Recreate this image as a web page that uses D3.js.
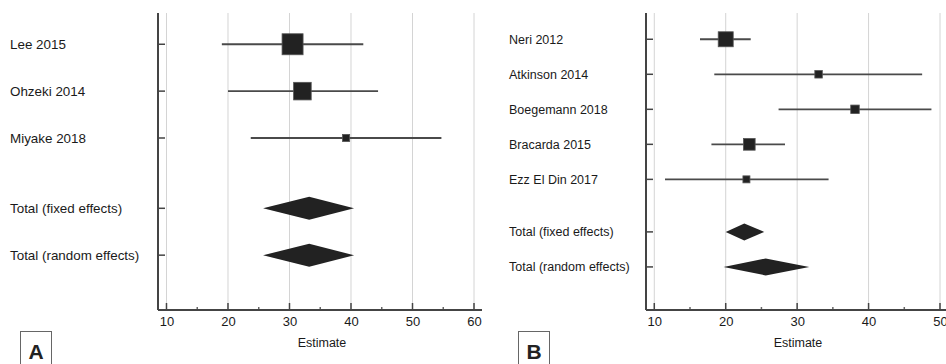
<!DOCTYPE html>
<html>
<head>
<meta charset="utf-8">
<script src="https://cdn.jsdelivr.net/npm/d3@7/dist/d3.min.js"></script>
<style>
  html, body { margin: 0; padding: 0; background: #fff; }
  svg { display: block; font-family: "Liberation Sans", Arial, sans-serif; }
</style>
</head>
<body>
<svg id="chart" width="946" height="364"></svg>
<script>
// Panel A: individual studies
const studiesA   = ["Lee 2015", "Ohzeki 2014", "Miyake 2018"];
const estA       = [30.5, 32.1, 39.2];
const lowA       = [19.0, 20.0, 23.7];
const highA      = [42.0, 44.4, 54.7];
const weightA    = [55.0, 38.6, 6.4];
// Panel A: pooled estimates
const totalsA    = ["Total (fixed effects)", "Total (random effects)"];
const totEstA    = [33.2, 33.2];
const totLowA    = [25.7, 25.7];
const totHighA   = [40.5, 40.5];
const ticksA     = [10, 20, 30, 40, 50, 60];

// Panel B: individual studies
const studiesB   = ["Neri 2012", "Atkinson 2014", "Boegemann 2018", "Bracarda 2015", "Ezz El Din 2017"];
const estB       = [20.0, 33.0, 38.1, 23.3, 22.9];
const lowB       = [16.4, 18.4, 27.4, 18.0, 11.5];
const highB      = [23.5, 47.5, 48.8, 28.3, 34.4];
const weightB    = [41.7, 10.4, 13.4, 25.4, 9.1];
// Panel B: pooled estimates
const totalsB    = ["Total (fixed effects)", "Total (random effects)"];
const totEstB    = [22.6, 25.6];
const totLowB    = [20.0, 19.7];
const totHighB   = [25.4, 31.7];
const ticksB     = [10, 20, 30, 40, 50];

const svg = d3.select("#chart");

function forestPanel(p) {
  const g = svg.append("g");
  const n = p.studies.length;
  // studies sit on rows 0..n-1, pooled rows follow after a half-row gap
  const rows = p.studies.map((s, i) => ({
    label: s, est: p.est[i], low: p.low[i], high: p.high[i], w: p.weight[i], row: i
  }));
  const totals = p.totals.map((s, j) => ({
    label: s, est: p.totEst[j], low: p.totLow[j], high: p.totHigh[j], row: n + 0.5 + j
  }));

  const x = d3.scaleLinear().domain(p.xDomain).range([p.left, p.right]);
  const y = d3.scaleLinear().domain(p.yDomain).range([p.top, p.bottom]);
  const size = d3.scaleSqrt().domain([0, d3.max(p.weight)]).range([0, p.maxSquare]);

  // vertical grid lines at major ticks
  g.selectAll("line.grid").data(p.ticks).join("line")
    .attr("x1", d => x(d)).attr("x2", d => x(d))
    .attr("y1", p.top).attr("y2", p.bottom)
    .attr("stroke", "#d4d4d4").attr("stroke-width", 1);

  // x axis (ticks point inward)
  const minor = d3.range(p.ticks[0] + 5, p.ticks[p.ticks.length - 1], 10);
  const xAxis = g.append("g").attr("transform", `translate(0,${p.bottom})`);
  xAxis.call(d3.axisBottom(x).tickValues(p.ticks).tickSize(0).tickPadding(7)
      .tickFormat(d3.format("d")))
    .call(a => a.select(".domain").remove());
  xAxis.selectAll("text").attr("font-size", 13).attr("fill", "#1a1a1a")
    .attr("font-family", "Liberation Sans, Arial, sans-serif");
  xAxis.selectAll("line.major").data(p.ticks).join("line").attr("class", "major")
    .attr("x1", d => x(d)).attr("x2", d => x(d)).attr("y1", 0).attr("y2", -7)
    .attr("stroke", "#444").attr("stroke-width", 1.5);
  xAxis.selectAll("line.minor").data(minor).join("line").attr("class", "minor")
    .attr("x1", d => x(d)).attr("x2", d => x(d)).attr("y1", 0).attr("y2", -3)
    .attr("stroke", "#666").attr("stroke-width", 1.5);
  xAxis.append("line").attr("x1", p.left).attr("x2", p.right)
    .attr("y1", 0).attr("y2", 0).attr("stroke", "#444").attr("stroke-width", 2);

  // y axis line with row ticks
  g.append("line").attr("x1", p.left).attr("x2", p.left)
    .attr("y1", p.top).attr("y2", p.bottom)
    .attr("stroke", "#444").attr("stroke-width", 2);
  const all = rows.concat(totals);
  g.selectAll("line.ytick").data(all).join("line")
    .attr("x1", p.left).attr("x2", p.left + 7)
    .attr("y1", d => y(d.row)).attr("y2", d => y(d.row))
    .attr("stroke", "#444").attr("stroke-width", 1.5);

  // row labels
  g.selectAll("text.rowlab").data(all).join("text")
    .attr("x", p.labelX).attr("y", d => y(d.row))
    .attr("dy", "0.35em")
    .attr("font-size", p.labelSize).attr("fill", "#1a1a1a")
    .text(d => d.label);

  // confidence intervals
  g.selectAll("line.ci").data(rows).join("line")
    .attr("x1", d => x(d.low)).attr("x2", d => x(d.high))
    .attr("y1", d => y(d.row)).attr("y2", d => y(d.row))
    .attr("stroke", "#4a4a4a").attr("stroke-width", 1.8);

  // weighted squares
  g.selectAll("rect.pt").data(rows).join("rect")
    .attr("x", d => x(d.est) - size(d.w) / 2)
    .attr("y", d => y(d.row) - size(d.w) / 2)
    .attr("width", d => size(d.w)).attr("height", d => size(d.w))
    .attr("fill", "#222").attr("stroke", "#555").attr("stroke-width", 0.8);

  // pooled diamonds
  g.selectAll("path.dia").data(totals).join("path")
    .attr("d", d => {
      const cy = y(d.row), h = p.diamondH / 2;
      return `M${x(d.low)},${cy}L${x(d.est)},${cy - h}L${x(d.high)},${cy}L${x(d.est)},${cy + h}Z`;
    })
    .attr("fill", "#222");

  // axis title
  g.append("text").attr("x", p.titleX).attr("y", 347)
    .attr("text-anchor", "middle").attr("font-size", 12.5).attr("fill", "#1a1a1a")
    .text("Estimate");

  // panel letter
  g.append("rect").attr("x", p.boxX + 0.5).attr("y", 331.5)
    .attr("width", 31).attr("height", 40)
    .attr("fill", "none").attr("stroke", "#666").attr("stroke-width", 1);
  g.append("text").attr("x", p.boxX + 16).attr("y", 358.5)
    .attr("text-anchor", "middle").attr("font-size", 21).attr("font-weight", "bold")
    .attr("fill", "#222").text(p.letter);
}

forestPanel({
  studies: studiesA, est: estA, low: lowA, high: highA, weight: weightA,
  totals: totalsA, totEst: totEstA, totLow: totLowA, totHigh: totHighA,
  ticks: ticksA, xDomain: [8.62, 61.3], left: 158, right: 482,
  yDomain: [-0.667, 5.67], top: 13, bottom: 310,
  maxSquare: 21, diamondH: 23, labelX: 10, labelSize: 13.4,
  titleX: 322, boxX: 20, letter: "A"
});

forestPanel({
  studies: studiesB, est: estB, low: lowB, high: highB, weight: weightB,
  totals: totalsB, totEst: totEstB, totLow: totLowB, totHigh: totHighB,
  ticks: ticksB, xDomain: [8.84, 50.84], left: 646, right: 946,
  yDomain: [-0.75, 7.73], top: 13, bottom: 310,
  maxSquare: 15, diamondH: 17, labelX: 509, labelSize: 12.5,
  titleX: 798, boxX: 518, letter: "B"
});
</script>
</body>
</html>
